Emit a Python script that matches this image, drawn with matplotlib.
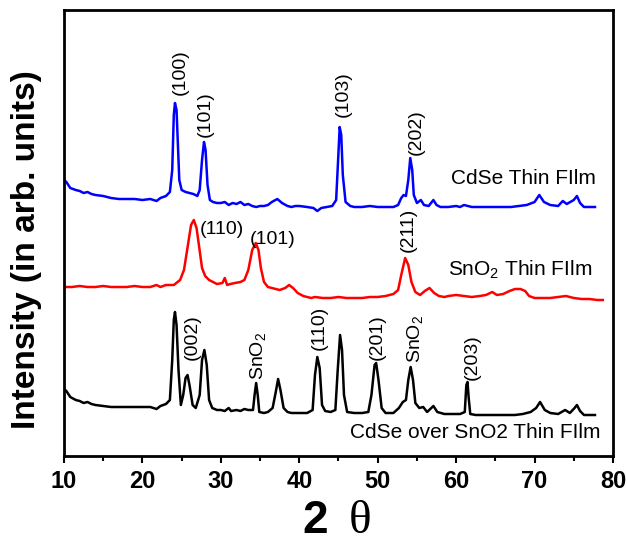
import numpy as np
import matplotlib
matplotlib.use("Agg")
import matplotlib.pyplot as plt
from matplotlib.ticker import MultipleLocator

plt.rcParams['font.family'] = ['Liberation Sans', 'DejaVu Sans']
plt.rcParams['mathtext.fontset'] = 'custom'
plt.rcParams['mathtext.rm'] = 'Liberation Sans'

# CdSe thin film (blue)
cdse_x = [10.0, 10.3, 10.8, 11.5, 12, 12.5, 13, 13.5, 14, 15, 16, 17, 18, 19, 20, 21, 21.8, 22.3, 23.0, 23.5,
          23.8, 24.0, 24.15, 24.35, 24.5, 24.7, 25.0, 25.5, 26, 26.5, 27, 27.3, 27.6, 27.85, 28.05, 28.3, 28.6,
          29, 29.5, 30, 30.5, 31, 31.5, 32, 32.5, 33, 33.5, 34, 34.5, 35, 35.5, 36, 36.5, 37.2, 37.8, 38.5, 39,
          39.5, 40, 41, 41.8, 42.3, 42.8, 43.5, 44.2, 44.7, 44.95, 45.15, 45.35, 45.55, 45.9, 46.5, 47, 48, 49,
          50, 51, 52, 52.6, 53.0, 53.3, 53.6, 53.9, 54.15, 54.4, 54.6, 55.0, 55.5, 55.9, 56.5, 57.1, 57.5, 58,
          59, 60, 60.5, 61, 61.5, 62, 63, 64, 65, 66, 67, 68, 69, 70, 70.6, 71.2, 72, 73, 73.6, 74.1, 75.0,
          75.4, 75.8, 76.3, 77, 77.7]
cdse_y = [276, 274, 268, 266, 265, 263, 264, 262, 261, 260, 258, 257, 257, 257, 256, 257, 255, 258, 260, 264,
          286, 341, 353, 346, 316, 276, 266, 264, 263, 262, 260, 266, 296, 314, 306, 271, 256,
          254, 253, 253, 254, 251, 253, 252, 254, 251, 252, 250, 249, 250, 250, 251, 254, 257, 253, 250, 249,
          250, 250, 249, 248, 245, 248, 249, 250, 256, 296, 329, 321, 281, 254, 250, 249, 249, 250,
          249, 249, 249, 251, 258, 261, 260, 276, 298, 286, 261, 253, 256, 251, 250, 256, 251, 249,
          249, 250, 249, 251, 250, 249, 249, 249, 249, 249, 249, 250, 251, 254, 261, 254, 251, 250, 255, 252, 256,
          260, 253, 249, 249, 249]

# SnO2 thin film (red)
sno2_x = [10, 11, 12, 13, 14, 15, 16, 17, 18, 19, 20, 21, 21.8, 22.3, 23, 24, 24.8, 25.3, 25.8, 26.2, 26.55,
          26.9, 27.2, 27.6, 28, 28.5, 29, 29.5, 30.2, 30.5, 30.8, 31.2, 31.8, 32.5, 33, 33.5, 34.0, 34.45, 34.8,
          35.1, 35.5, 36, 36.5, 37, 37.5, 38.2, 38.7, 39.2, 39.8, 40.5, 41, 41.5, 42, 43, 44, 45, 46, 47, 48,
          49, 50, 51, 52, 52.6, 53.0, 53.5, 53.9, 54.3, 54.8, 55.4, 56.0, 56.6, 57.2, 57.8, 58.5, 59, 60, 61,
          62, 63, 63.8, 64.6, 65.2, 66, 66.8, 67.5, 68.2, 68.8, 69.3, 70, 71, 72, 73, 74, 74.5, 75, 76, 77, 78,
          78.7]
sno2_y = [169, 169, 170, 169, 169, 170, 169, 169, 169, 170, 169, 169, 171, 169, 171, 171, 176, 186, 211, 231, 236,
          228, 211, 188, 180, 176, 174, 172, 173, 178, 171, 172, 173, 174, 176, 186, 206, 213, 206,
          188, 174, 169, 168, 167, 166, 168, 171, 168, 163, 160, 159, 158, 159, 158, 158, 159, 158, 158, 158,
          159, 159, 160, 162, 166, 181, 198, 191, 174, 164, 161, 165, 168, 163, 160, 159, 160, 161, 160,
          159, 160, 161, 164, 161, 162, 165, 167, 167, 165, 160, 158, 158, 158, 159, 160, 159, 158, 157, 157, 156,
          156]

# CdSe over SnO2 thin film (black)
both_x = [10, 10.3, 10.8, 11.5, 12, 12.5, 13, 13.5, 14, 15, 16, 17, 18, 19, 20, 21, 21.8, 22.3, 23, 23.5, 23.8,
          24.0, 24.15, 24.35, 24.6, 24.9, 25.2, 25.5, 25.75, 26.0, 26.4, 26.8, 27.3, 27.6, 27.9, 28.2, 28.5,
          28.9, 29.5, 30, 30.5, 31, 31.3, 32, 32.5, 33, 33.5, 34.1, 34.3, 34.5, 34.7, 34.9, 35.5, 36, 36.6,
          37.0, 37.3, 37.6, 38.0, 38.5, 39, 40, 41, 41.7, 42.0, 42.3, 42.6, 42.9, 43.3, 44, 44.6, 44.9, 45.2,
          45.45, 45.7, 46.1, 47, 48, 48.8, 49.2, 49.6, 49.8, 50.1, 50.5, 51, 52, 52.7, 53.2, 53.6, 53.9, 54.2,
          54.5, 54.8, 55.3, 55.8, 56.3, 57.1, 57.6, 58.5, 59.5, 60.5, 61.1, 61.3, 61.45, 61.6, 61.8, 62.5,
          63.5, 64.5, 65.5, 66.5, 67.5, 68.5, 69.5, 70.2, 70.7, 71.3, 72, 73, 73.9, 74.5, 75.1, 75.4, 75.8,
          76.3, 77, 77.7]
both_y = [67, 65, 59, 56, 55, 53, 54, 52, 51, 50, 49, 49, 49, 49, 49, 49, 47, 50, 52, 56, 96,
          136, 144, 131, 86, 51, 61, 78, 81, 71, 51, 48, 61, 96, 106, 91, 56,
          48, 46, 46, 45, 48, 45, 46, 45, 47, 46, 46, 61, 73, 61, 44, 43, 44, 48,
          64, 77, 66, 48, 44, 43, 43, 43, 46, 81, 99, 88, 51, 45, 44, 46, 86, 121,
          106, 61, 44, 43, 43, 44, 61, 91, 93, 76, 48, 43, 43, 48, 54, 56, 76, 89,
          76, 53, 48, 49, 44, 50, 44, 42, 42, 42, 44, 71, 74, 58, 42, 41,
          41, 41, 41, 41, 41, 42, 44, 48, 54, 46, 43, 42, 46, 43, 48, 51, 45,
          41, 41, 41]

# rotated peak labels: (text, x, bottom y)
cdse_labels = [("(100)", 24.8, 361), ("(101)", 28.0, 319), ("(103)", 45.6, 339), ("(202)", 54.9, 301)]
sno2_flat = [("(110)", 27.3, 227), ("(101)", 33.7, 217)]
sno2_rot = [("(211)", 53.9, 204)]
both_labels = [("(002)", 26.3, 96), ("SnO$_\\mathregular{2}$", 34.9, 76), ("(110)", 42.6, 106),
               ("(201)", 50.0, 96), ("SnO$_\\mathregular{2}$", 54.8, 93), ("(203)", 62.1, 76)]

fig = plt.figure(figsize=(6.28, 5.44), dpi=100)
ax = fig.add_axes([64 / 628, 88 / 544, 549 / 628, 446 / 544])

ax.plot(cdse_x, cdse_y, color='#0000ff', lw=1.8)
ax.plot(sno2_x, sno2_y, color='#ff0000', lw=1.8)
ax.plot(both_x, both_y, color='black', lw=1.8)

for t, x, y in cdse_labels + sno2_rot + both_labels:
    ax.text(x, y, t, rotation=90, ha='center', va='bottom', fontsize=14)
for t, x, y in sno2_flat:
    ax.text(x, y, t, ha='left', va='center', fontsize=14)

ax.text(59.3, 278, "CdSe Thin FIlm", ha='left', va='center', fontsize=15)
ax.text(59.0, 181, "SnO$_\\mathregular{2}$ Thin FIlm", ha='left', va='baseline', fontsize=15)
ax.text(46.5, 24, "CdSe over SnO2 Thin FIlm", ha='left', va='center', fontsize=15)

ax.set_xlim(10, 80)
ax.set_ylim(0, 446)
ax.xaxis.set_major_locator(MultipleLocator(10))
ax.xaxis.set_minor_locator(MultipleLocator(5))
ax.tick_params(axis='x', which='major', direction='out', length=5, width=1.5, pad=5,
               labelsize=17, top=False)
ax.tick_params(axis='x', which='minor', direction='out', length=3.5, width=1.5, top=False)
for lab in ax.get_xticklabels():
    lab.set_fontweight('bold')
ax.set_yticks([])
for s in ax.spines.values():
    s.set_linewidth(2)

ax.set_ylabel("Intensity (in arb. units)", fontsize=24, fontweight='bold')
ax.yaxis.set_label_coords(-0.04, 0.462)

# x label "2 θ": bold sans digit, serif theta
fig.text(315 / 628, 0.002, "2", fontsize=33, fontweight='bold', ha='center', va='bottom')
fig.text(360 / 628, 0.002, "θ", fontsize=34, family=['Liberation Serif', 'DejaVu Serif'],
         ha='center', va='bottom')

fig.savefig("out.png", dpi=100)
